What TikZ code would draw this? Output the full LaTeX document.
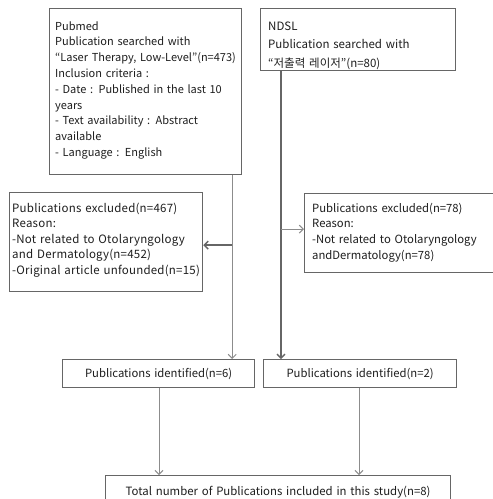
\documentclass[tikz,border=0pt]{standalone}
\usepackage{fontspec}
\setmainfont{Noto Sans CJK KR}
\newfontfamily\exfont[LetterSpace=2]{Noto Sans CJK KR}
\usetikzlibrary{arrows.meta,calc}
\definecolor{boxline}{HTML}{666666}
\definecolor{thinline}{HTML}{8C8C8C}
\definecolor{txt}{HTML}{1E1E1E}
\tikzset{
  frame/.style={draw=boxline, line width=1.2pt, fill=white, anchor=north west, inner sep=0pt},
  label/.style={anchor=base west, align=left, inner sep=0pt, text=txt, text width=#1},
  cbox/.style={draw=boxline, line width=1.2pt, fill=white, anchor=north west, align=center,
    inner xsep=4pt, inner ysep=0pt, text=txt},
  thinarrow/.style={draw=thinline, line width=0.9pt, -{Straight Barb[length=4pt,width=8pt,line width=1pt]}},
  thickarrow/.style={draw=boxline, line width=2.2pt, -{Straight Barb[length=4pt,width=8pt,line width=1.4pt]}}
}
\begin{document}
\begin{tikzpicture}[x=1pt,y=-1pt]
\path[use as bounding box] (0,0) rectangle (493,499);
\clip (0,0) rectangle (493,499);
% frames
\node[frame, minimum width=192pt, minimum height=166pt] (pub) at (49,8) {};
\node[frame, minimum width=195pt, minimum height=62pt] (ndsl) at (260,8) {};
\node[frame, minimum width=193pt, minimum height=99pt] (exl) at (9,192) {};
\node[frame, minimum width=190pt, minimum height=79pt] (exr) at (304,193) {};
% texts
\node[label=185pt, font=\fontsize{11}{15.8}\selectfont] (pubtext) at (55,30)
 {Pubmed\\Publication searched with\\“Laser Therapy, Low-Level”(n=473)\\Inclusion criteria :\\- Date : Published in the last 10\\years\\- Text availability : Abstract\\available\\- Language : English};
\node[label=185pt, font=\fontsize{11.5}{18.5}\selectfont] (ndsltext) at (268,30)
 {NDSL\\Publication searched with\\“저출력 레이저”(n=80)};
\node[label=190pt, font=\exfont\fontsize{11.5}{15.5}\selectfont] (exltext) at (12,212)
 {Publications excluded(n=467)\\Reason:\\-Not related to Otolaryngology\\and Dermatology(n=452)\\-Original article unfounded(n=15)};
\node[label=180pt, font=\fontsize{11.3}{15.7}\selectfont] (exrtext) at (312,212)
 {Publications excluded(n=78)\\Reason:\\-Not related to Otolaryngology\\andDermatology(n=78)};
% single-line boxes
\node[cbox, minimum width=192pt, minimum height=28pt, text width=184pt, font=\fontsize{11.3}{14}\selectfont] (idl) at (62,359)
 {Publications identified(n=6)};
\node[cbox, minimum width=193pt, minimum height=28pt, text width=185pt, font=\fontsize{11.3}{14}\selectfont] (idr) at (263,359)
 {Publications identified(n=2)};
\node[cbox, minimum width=345pt, minimum height=34pt, text width=337pt, font=\fontsize{11.4}{14}\selectfont] (tot) at (105,475)
 {Total number of Publications included in this study(n=8)};
% connectors
\coordinate (pubout) at ([xshift=-10pt]pub.south east);
\coordinate (ndslout) at ([xshift=21pt]ndsl.south west);
\draw[thinarrow] (pubout) -- (pubout |- idl.north);
\draw[thickarrow] ([yshift=-3pt]pubout |- exl.east) -- ([yshift=-3pt]exl.east);
\draw[thickarrow] (ndslout) -- (ndslout |- idr.north);
\draw[thinarrow] ([yshift=4pt]ndslout |- exr.west) -- ([yshift=4pt]exr.west);
\draw[thinarrow] ([xshift=97pt]idl.south west) -- ([xshift=97pt]idl.south west |- tot.north);
\draw[thinarrow] ([xshift=96pt]idr.south west) -- ([xshift=96pt]idr.south west |- tot.north);
\end{tikzpicture}
\end{document}
